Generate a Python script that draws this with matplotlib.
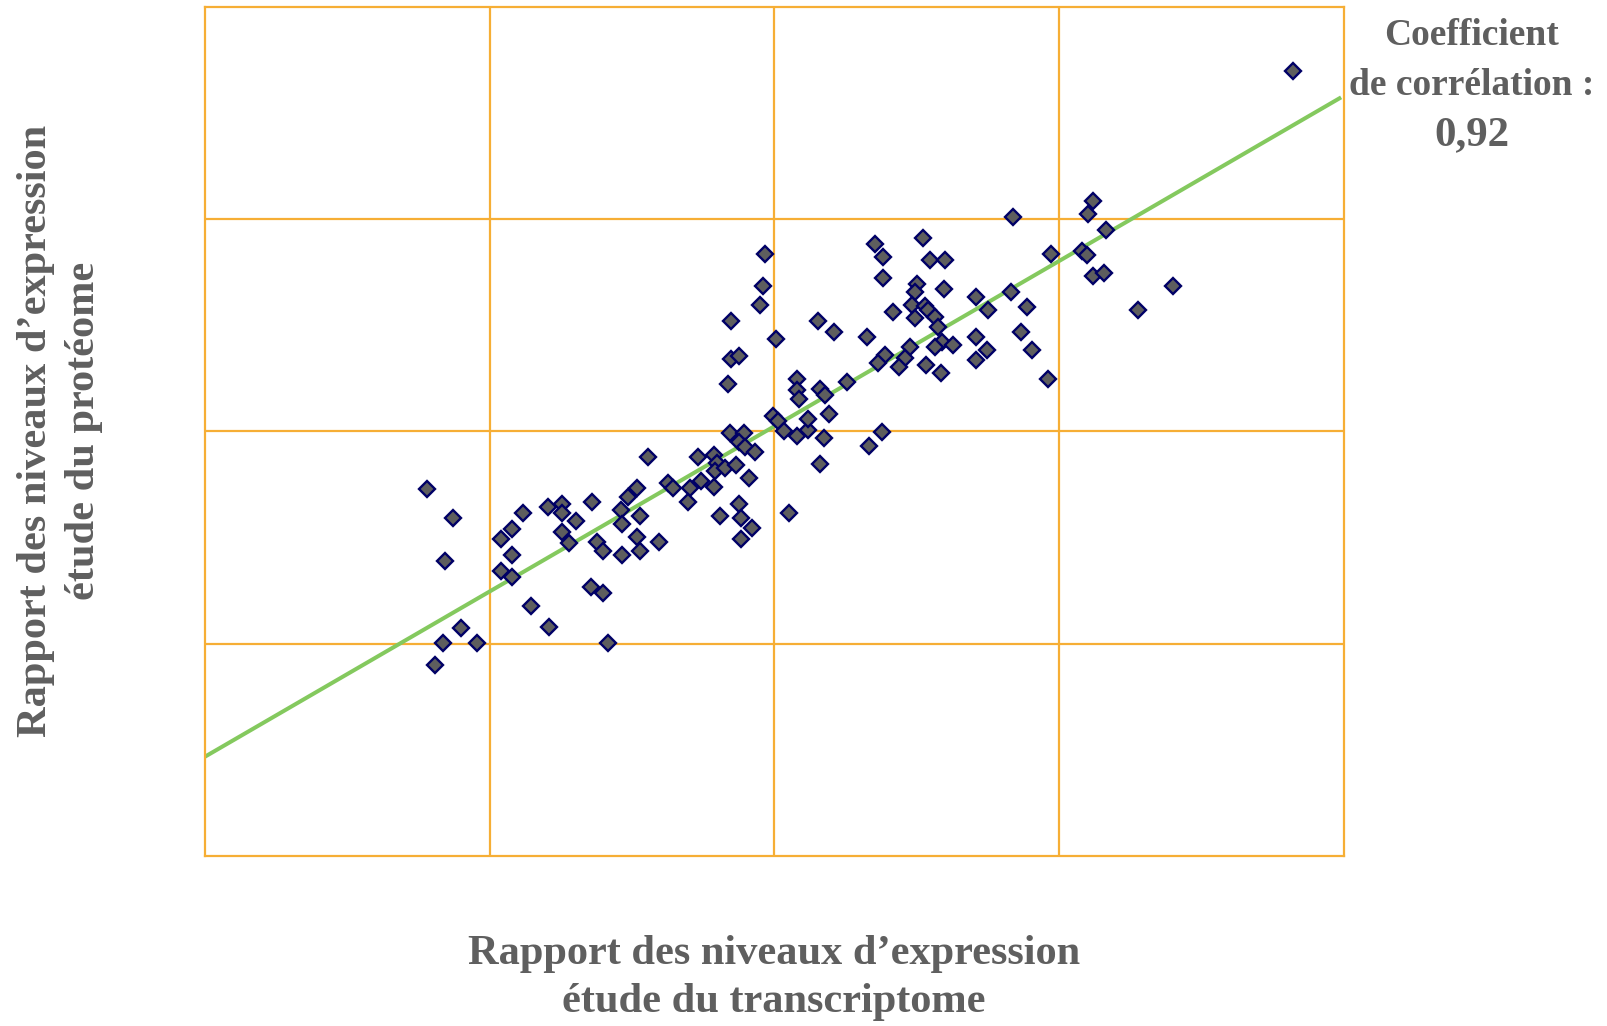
import matplotlib
matplotlib.use("Agg")
import matplotlib.pyplot as plt
import numpy as np

# ratio transcriptome (x) vs proteome (y), log scale
ratio_transcriptome = [
    -1.221, -1.128, -1.156, -1.101, -1.165, -1.046, -1.193,
    -0.884, -0.923, -0.960, -0.921, -0.960, -0.923, -0.856, -0.792,
    -0.794, -0.745, -0.745, -0.698, -0.745, -0.721,
    -0.642, -0.644, -0.603, -0.586, -0.624, -0.603,
    -0.539, -0.513, -0.483, -0.537, -0.472, -0.483, -0.472, -0.536, -0.406,
    -0.444, -0.374, -0.356, -0.295, -0.258, -0.304, -0.211, -0.267, -0.211,
    -0.203, -0.209, -0.174, -0.135, -0.088, -0.191, -0.126, -0.117, -0.078,
    -0.117, -0.155, -0.106, -0.126, -0.104, -0.068, 0.052,
    -0.005, 0.012, 0.033, 0.078, 0.119, 0.117, 0.174, 0.192, 0.160, 0.177,
    0.254, 0.078, 0.078, 0.087, 0.332, 0.379, 0.160,
    -0.033, -0.041, -0.051, -0.154, 0.005, -0.154, -0.125, -0.162,
    0.154, 0.210, 0.324,
    0.353, 0.382, 0.520, 0.546, 0.599, 0.380, 0.501, 0.493, 0.595, 0.417,
    0.482, 0.493, 0.529, 0.540, 0.564, 0.575, 0.708, 0.750, 0.708, 0.587,
    0.628, 0.564, 0.476, 0.388, 0.365, 0.458, 0.438, 0.531, 0.585, 0.708, 0.748,
    0.837, 1.120, 1.100, 1.164, 0.970, 1.080, 1.097, 1.120, 1.157, 1.401,
    1.278, 0.830, 0.886, 0.866, 0.903, 0.962,
    1.822,
]
ratio_proteome = [
    -0.271, -0.409, -0.610, -0.924, -0.998, -0.998, -1.100,
    -0.383, -0.459, -0.508, -0.582, -0.657, -0.684, -0.821, -0.922,
    -0.357, -0.342, -0.385, -0.420, -0.472, -0.524,
    -0.331, -0.731, -0.759, -0.998, -0.519, -0.562,
    -0.370, -0.309, -0.268, -0.438, -0.398, -0.495, -0.561, -0.580, -0.521,
    -0.120, -0.243, -0.266, -0.268, -0.233, -0.332, -0.260, -0.119, -0.112,
    -0.150, -0.184, -0.172, -0.156, -0.219, -0.398, -0.342, -0.409, -0.456,
    -0.508, -0.006, -0.005, -0.048, -0.073, -0.095, -0.383,
    0.073, 0.050, 0.001, -0.021, 0.007, 0.059, -0.032, 0.081, 0.200, 0.172,
    0.232, 0.247, 0.196, 0.153, -0.067, -0.004, -0.153,
    0.836, 0.686, 0.596, 0.521, 0.434, 0.342, 0.357, 0.222,
    0.522, 0.470, 0.447,
    0.883, 0.824, 0.910, 0.808, 0.808, 0.722, 0.694, 0.659, 0.671, 0.562,
    0.596, 0.533, 0.591, 0.572, 0.538, 0.494, 0.635, 0.570, 0.447, 0.423,
    0.408, 0.397, 0.400, 0.360, 0.324, 0.345, 0.302, 0.313, 0.277, 0.337, 0.384,
    1.012, 1.086, 1.023, 0.949, 0.836, 0.852, 0.832, 0.734, 0.745, 0.686,
    0.572, 0.659, 0.585, 0.470, 0.384, 0.246,
    1.700,
]

# droite de regression
fit_slope = 0.7785
fit_intercept = 0.025
fit_x_range = [-2.0, 1.99]
correlation = "0,92"

grid_col = "#F6AE35"
text_col = "#5F5F5F"

plt.rcParams['font.family'] = ['Liberation Serif', 'DejaVu Serif']

fig = plt.figure(figsize=(16.08, 10.26), dpi=100)
ax = fig.add_axes([0.1275, 0.1657, 0.7083, 0.8275])

ax.set_xlim(-2, 2)
ax.set_ylim(-2, 2)
ax.set_xticks([-1, 0, 1])
ax.set_yticks([-1, 0, 1])
ax.grid(True, color=grid_col, linewidth=1.6)
ax.tick_params(length=0, labelbottom=False, labelleft=False)
for s in ax.spines.values():
    s.set_color(grid_col)
    s.set_linewidth(1.6)
ax.set_axisbelow(True)

# points
ax.plot(ratio_transcriptome, ratio_proteome, linestyle='none', marker='D',
        markersize=8, markerfacecolor='#5E5E5E', markeredgecolor='#000066',
        markeredgewidth=1.7, zorder=3)

fx = np.array(fit_x_range)
ax.plot(fx, fit_slope * fx + fit_intercept, color='#84C95E', linewidth=2.9,
        solid_capstyle='butt', zorder=2, clip_on=False)

fig.text(774 / 1608, 1 - 978 / 1026, "Rapport des niveaux d\u2019expression\n\u00e9tude du transcriptome",
         ha='center', va='center', fontsize=30.5, fontweight='bold', color=text_col,
         linespacing=1.36)
fig.text(60 / 1608, 1 - 431 / 1026, "Rapport des niveaux d\u2019expression\n\u00e9tude du prot\u00e9ome",
         ha='center', va='center', rotation=90, fontsize=30.5, fontweight='bold',
         color=text_col, linespacing=1.36)

# coefficient de correlation, en haut a droite
fig.text(1472 / 1608, 1 - 45 / 1026, "Coefficient", ha='center', va='baseline',
         fontsize=27, fontweight='bold', color=text_col)
fig.text(1472 / 1608, 1 - 95 / 1026, "de corr\u00e9lation :", ha='center', va='baseline',
         fontsize=27, fontweight='bold', color=text_col)
fig.text(1472 / 1608, 1 - 145 / 1026, correlation, ha='center', va='baseline',
         fontsize=31, fontweight='bold', color=text_col)

fig.savefig("out.png", dpi=100)
